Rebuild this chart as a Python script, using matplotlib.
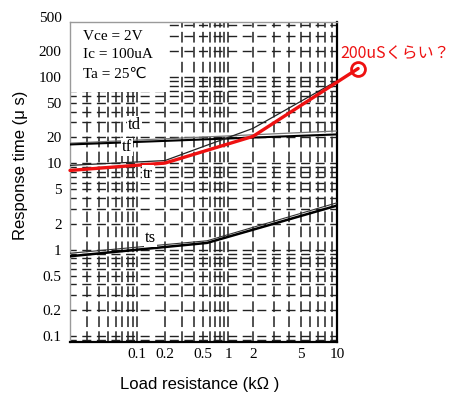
import numpy as np
import matplotlib.pyplot as plt
from matplotlib.patches import Rectangle

# load resistance (kOhm) / response time (us)
td_x = [0.02, 10]
td_y = [17.2, 23.8]
tf_x = [0.02, 10]
tf_y = [16.6, 21.7]
tr_x = [0.02, 0.2, 2, 10]
tr_y = [9.5, 10.8, 25.5, 90.6]
ts_x = [0.02, 0.56, 10]
ts_y = [0.84, 1.2, 3.25]
ts2_y = [0.91, 1.27, 3.5]
# red hand-drawn extrapolation
red_x = [0.02, 0.2, 2, 15]
red_y = [8.3, 10.1, 20.6, 126]

xticks = [0.1, 0.2, 0.5, 1, 2, 5, 10]
xticklabels = ['0.1', '0.2', '0.5', '1', '2', '5', '10']
yticks = [0.1, 0.2, 0.5, 1, 2, 5, 10, 20, 50, 100, 200, 500]
yticklabels = ['0.1', '0.2', '0.5', '1', '2', '5', '10', '20', '50', '100', '200', '500']

# the scanned x axis is not a clean log scale: piecewise log mapping
LOGK = [-4, -1.699, -1, -0.699, -0.301, 0, 0.301, 0.699, 1, 3]
PIXK = [-151, 70, 137, 165, 203, 228, 253, 301, 337, 577]


def fwd(x):
    x = np.clip(np.asarray(x, dtype=float), 1e-12, None)
    return np.interp(np.log10(x), LOGK, PIXK)


def inv(p):
    return 10 ** np.interp(np.asarray(p, dtype=float), PIXK, LOGK)


W, H = 475, 399
fig = plt.figure(figsize=(W / 100, H / 100), dpi=100)
ax = fig.add_axes([70 / W, 1 - 342 / H, 267 / W, 320 / H])

ax.set_xscale('function', functions=(fwd, inv))
ax.set_yscale('log')
ax.set_xlim(0.02, 10)
ax.set_ylim(0.0852, 436)

ax.set_xticks(xticks)
ax.set_xticklabels(xticklabels)
xminor = [k * 10.0 ** e for e in (-2, -1, 0) for k in range(2, 10)]
ax.set_xticks([v for v in xminor if 0.02 < v < 10 and v not in xticks], minor=True)
yt = [v for v in yticks if v < 436]
ax.set_yticks(yt)
ax.set_yticklabels(yticklabels[:len(yt)])
ax.yaxis.set_minor_locator(plt.LogLocator(base=10, subs=np.arange(2, 10)))
ax.yaxis.set_minor_formatter(plt.NullFormatter())

ax.tick_params(which='both', length=0)
ax.tick_params(axis='y', pad=6)
ax.tick_params(axis='x', pad=4)
for lab in ax.get_xticklabels() + ax.get_yticklabels():
    lab.set_family('Liberation Serif')
    lab.set_fontsize(11)

# the 500 label sits just above the frame in the original
fig.text(62 / W, 1 - 18 / H, '500', ha='right', va='center',
         family='Liberation Serif', fontsize=11)

ax.set_axisbelow(True)
ax.grid(True, axis='x', which='both', color='#222222', lw=1.1, ls=(0, (7, 2.8)))
ax.grid(True, axis='y', which='both', color='#222222', lw=1.0, ls=(2, (6.5, 4)))

for s in ['left', 'top']:
    ax.spines[s].set_color('#9a9a9a')
    ax.spines[s].set_linewidth(1.0)
for s in ['right', 'bottom']:
    ax.spines[s].set_color('black')
    ax.spines[s].set_linewidth(1.6)

# blank area behind the test conditions
ax.add_patch(Rectangle((0, 0.78), 0.367, 0.22, transform=ax.transAxes,
                       fc='white', ec='none', zorder=2))

ax.plot(td_x, td_y, color='#777777', lw=0.9, zorder=3)
ax.plot(tf_x, tf_y, color='black', lw=1.5, zorder=3)
ax.plot(tr_x, tr_y, color='#222222', lw=0.9, zorder=3)
ax.plot(ts_x, ts2_y, color='#333333', lw=0.8, zorder=3)
ax.plot(ts_x, ts_y, color='black', lw=1.8, zorder=3)
ax.plot(red_x, red_y, color='#ee1111', lw=2.4, zorder=4, clip_on=False,
        solid_capstyle='round')
ax.plot(red_x[-1], red_y[-1], 'o', ms=10, mfc='none', mec='#ee1111', mew=2,
        zorder=4, clip_on=False)

serif = 'Liberation Serif'
cond = ['Vce = 2V', 'Ic = 100uA', 'Ta = 25℃']
for i, t in enumerate(cond):
    fig.text(83 / W, 1 - (36 + 19 * i) / H, t, ha='left', va='center',
             family=[serif, 'DejaVu Sans'], fontsize=11, zorder=5)

lab_box = dict(boxstyle='square,pad=0.05', fc='white', ec='none')
fig.text(128 / W, 1 - 125 / H, 'td', family=serif, fontsize=12, va='center', bbox=lab_box)
fig.text(122 / W, 1 - 147 / H, 'tf', family=serif, fontsize=12, va='center', bbox=lab_box)
fig.text(143 / W, 1 - 174 / H, 'tr', family=serif, fontsize=12, va='center', bbox=lab_box)
fig.text(145 / W, 1 - 238 / H, 'ts', family=serif, fontsize=12, va='center', bbox=lab_box)

fig.text(340 / W, 1 - 53 / H, '200uSくらい？', color='#ee1111',
         family=['Noto Sans CJK JP', 'DejaVu Sans'], fontsize=11.5,
         ha='left', va='center')

fig.text(21 / W, 1 - 165 / H, 'Response time (μ s)', rotation=90,
         family='Liberation Sans', fontsize=12, ha='center', va='center')
fig.text(200 / W, 1 - 385 / H, 'Load resistance (kΩ )',
         family='Liberation Sans', fontsize=12, ha='center', va='center')

fig.savefig('out.png', dpi=100)
